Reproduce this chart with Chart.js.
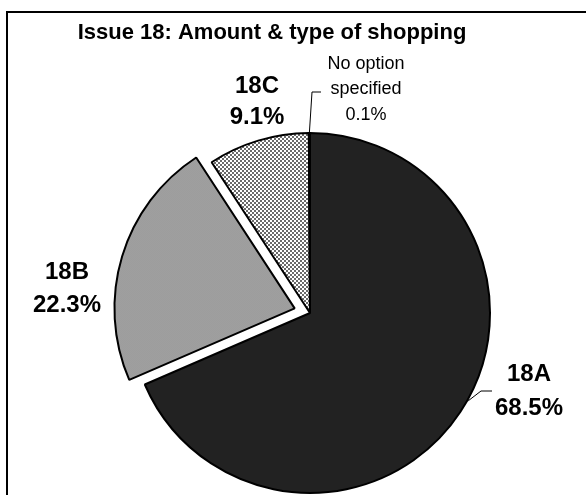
<!DOCTYPE html>
<html>
<head>
<meta charset="utf-8">
<script src="https://cdn.jsdelivr.net/npm/chart.js@4.4.1/dist/chart.umd.min.js"></script>
<style>
  html, body { margin: 0; padding: 0; background: #fff; }
  #wrap { position: relative; width: 586px; height: 495px; overflow: hidden; }
</style>
</head>
<body>
<div id="wrap"><canvas id="pie" width="586" height="495"></canvas></div>
<script>
// ---------- data ----------
const TITLE = 'Issue 18: Amount & type of shopping';
const LABELS = ['18A', '18B', '18C', 'No option specified'];
const VALUES = [68.5, 22.3, 9.1, 0.1];
// Chart.js v4 moves an arc by offset/4, so 64 gives a ~16px explode
const EXPLODE = [0, 64, 0, 0];

const FONT = '"Liberation Sans", Arial, Helvetica, sans-serif';

// small tiled fills that mimic the old Excel hatch patterns
function makePattern(size, cellFn){
  const c = document.createElement('canvas');
  c.width = c.height = size;
  const g = c.getContext('2d');
  for (let y = 0; y < size; y++){
    for (let x = 0; x < size; x++){
      g.fillStyle = cellFn(x, y);
      g.fillRect(x, y, 1, 1);
    }
  }
  return g.createPattern(c, 'repeat');
}

const ctx = document.getElementById('pie').getContext('2d');
const fineGray = makePattern(2, (x, y) => ((x + y) % 2 ? '#b8b8b8' : '#858585'));
const checker = makePattern(4, (x, y) => (((x >> 1) + (y >> 1)) % 2 ? '#ffffff' : '#6a6a6a'));
const COLORS = ['#222222', fineGray, checker, '#ffffff'];

// label placement (styling only, values come from VALUES / LABELS)
const LABEL_LAYOUT = [
  { x: 529, lines: [374, 408], font: 'bold 24px ' + FONT,
    leader: { angle: -4.3, pts: [[481, 391], [492, 391]] } },
  { x: 67, lines: [272, 305], font: 'bold 24px ' + FONT },
  { x: 257, lines: [86, 117], font: 'bold 24px ' + FONT },
  { x: 366, lines: [64, 89.5, 115], font: '18px ' + FONT, split: ['No option', 'specified'],
    leader: { angle: 0, pts: [[312, 92], [321, 92]] } }
];

function pctText(v){ return v.toFixed(1) + '%'; }

const framePlugin = {
  id: 'frame',
  beforeDraw(chart){
    const c = chart.ctx;
    c.save();
    c.fillStyle = '#fff';
    c.fillRect(0, 0, chart.width, chart.height);
    c.strokeStyle = '#000';
    c.lineWidth = 2;
    c.strokeRect(7, 12, 700, 700);
    c.restore();
  },
  afterDraw(chart){
    const c = chart.ctx;
    c.save();
    c.fillStyle = '#000';
    c.font = 'bold 22px ' + FONT;
    c.textAlign = 'center';
    c.textBaseline = 'alphabetic';
    c.fillText(TITLE, 272, 39);
    c.restore();
  }
};

const labelPlugin = {
  id: 'sliceLabels',
  afterDatasetsDraw(chart){
    const c = chart.ctx;
    const meta = chart.getDatasetMeta(0);
    c.save();
    LABEL_LAYOUT.forEach((lay, i) => {
      const arc = meta.data[i];
      if (lay.leader){
        const a = (arc.startAngle + arc.endAngle) / 2 + lay.leader.angle * Math.PI / 180;
        const r = arc.outerRadius + 1;
        c.beginPath();
        c.moveTo(arc.x + Math.cos(a) * r, arc.y + Math.sin(a) * r);
        lay.leader.pts.forEach(p => c.lineTo(p[0], p[1]));
        c.strokeStyle = '#000';
        c.lineWidth = 1;
        c.stroke();
      }
      const texts = (lay.split || [LABELS[i]]).concat([pctText(VALUES[i])]);
      c.fillStyle = '#000';
      c.font = lay.font;
      c.textAlign = 'center';
      c.textBaseline = 'middle';
      texts.forEach((t, k) => c.fillText(t, lay.x, lay.lines[k]));
    });
    c.restore();
  }
};

new Chart(ctx, {
  type: 'pie',
  data: {
    labels: LABELS,
    datasets: [{
      data: VALUES,
      backgroundColor: COLORS,
      borderColor: '#000',
      borderWidth: 2,
      offset: EXPLODE,
      hoverOffset: 0,
      radius: 180
    }]
  },
  options: {
    responsive: false,
    animation: false,
    events: [],
    layout: { padding: { left: 130, right: 96, top: 133, bottom: 2 } },
    plugins: {
      legend: { display: false },
      tooltip: { enabled: false },
      title: { display: false }
    }
  },
  plugins: [framePlugin, labelPlugin]
});
</script>
</body>
</html>
